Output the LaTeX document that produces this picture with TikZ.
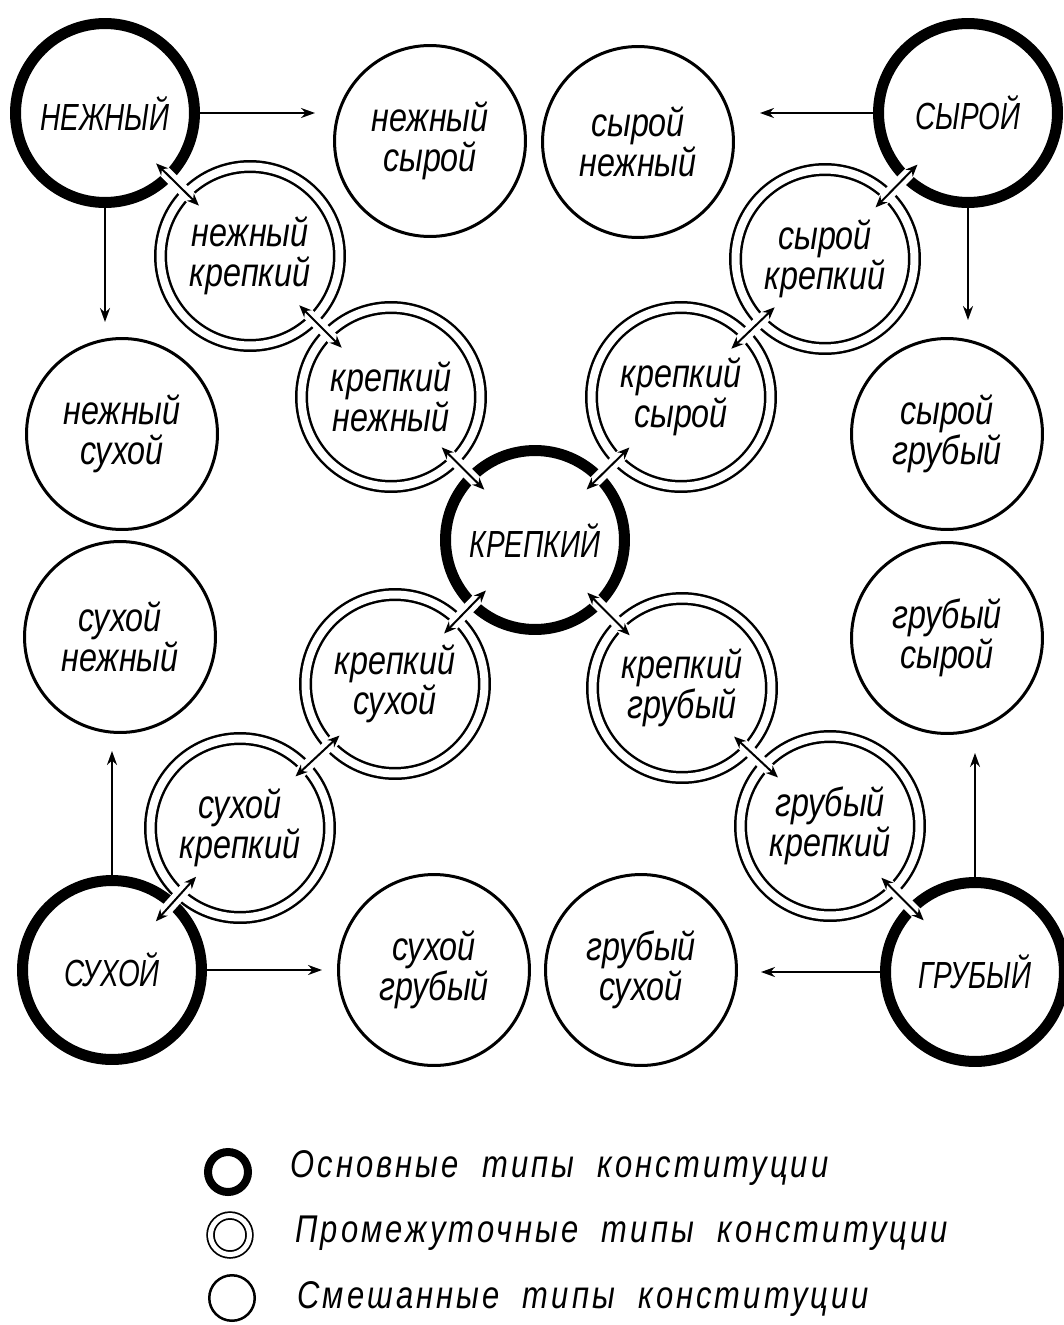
\documentclass[tikz,border=0pt]{standalone}
\usepackage{fontspec}
\usetikzlibrary{arrows.meta,calc}
\newfontfamily\typefont[FakeStretch=0.74]{Liberation Sans}
\newfontfamily\smallfont[FakeStretch=0.8]{Liberation Sans}
\newfontfamily\legendfont[FakeStretch=0.8,LetterSpace=8]{Liberation Sans}

\begin{document}
\begin{tikzpicture}[x=0.02cm, y=-0.02cm,
    basic/.style={draw, circle, line width=0.22cm, minimum size=3.58cm, inner sep=0pt,
      font=\typefont\itshape\fontsize{21.5}{24}\selectfont},
    inter/.style={draw, circle, double, line width=0.05cm, double distance=0.16cm,
      minimum size=3.58cm, inner sep=0pt, align=center,
      font=\smallfont\itshape\fontsize{23}{23}\selectfont},
    mixed/.style={draw, circle, line width=0.06cm, minimum size=3.82cm, inner sep=0pt,
      align=center, font=\smallfont\itshape\fontsize{23}{23}\selectfont},
    arr/.style={line width=0.04cm, -{Stealth[length=0.28cm,width=0.2cm]}},
    twoarr/.style={line width=0.04cm,
      {Stealth[length=0.24cm,width=0.2cm]}-{Stealth[length=0.24cm,width=0.2cm]}},
    halo/.style={white, line width=0.24cm},
    legtext/.style={anchor=base west, inner sep=0pt,
      font=\legendfont\itshape\fontsize{22}{24}\selectfont}]
    \useasboundingbox (0,0) rectangle (1064,1325);

    % Basic types
    \node[basic] (nezh) at (105,113) {НЕЖНЫЙ};
    \node[basic] (syr)  at (968,113) {СЫРОЙ};
    \node[basic] (krep) at (535,540) {КРЕПКИЙ};
    \node[basic] (sukh) at (112,970) {СУХОЙ};
    \node[basic] (grub) at (975,972) {ГРУБЫЙ};

    % Mixed types
    \node[mixed] (nezhsyr)  at (430,141) {нежный\\сырой};
    \node[mixed] (syrnezh)  at (638,142) {сырой\\нежный};
    \node[mixed] (nezhsukh) at (122,434) {нежный\\сухой};
    \node[mixed] (sukhnezh) at (120,637) {сухой\\нежный};
    \node[mixed] (syrgrub)  at (947,434) {сырой\\грубый};
    \node[mixed] (grubsyr)  at (947,638) {грубый\\сырой};
    \node[mixed] (sukhgrub) at (434,970) {сухой\\грубый};
    \node[mixed] (grubsukh) at (641,970) {грубый\\сухой};

    % Intermediate types
    \node[inter] (nezhkrep) at (250,256) {нежный\\крепкий};
    \node[inter] (krepnezh) at (391,397) {крепкий\\нежный};
    \node[inter] (syrkrep)  at (825,259) {сырой\\крепкий};
    \node[inter] (krepsyr)  at (681,397) {крепкий\\сырой};
    \node[inter] (krepsukh) at (395,684) {крепкий\\сухой};
    \node[inter] (sukhkrep) at (240,828) {сухой\\крепкий};
    \node[inter] (krepgrub) at (682,688) {крепкий\\грубый};
    \node[inter] (grubkrep) at (830,826) {грубый\\крепкий};

    % Arrows to mixed types
    \draw[arr, shorten >=0.36cm] (nezh.east) -- (nezh.east -| nezhsyr.west);
    \draw[arr, shorten >=0.3cm] (nezh.south) -- (nezh.south |- nezhsukh.north);
    \draw[arr, shorten >=0.5cm] (syr.west) -- (syr.west -| syrnezh.east);
    \draw[arr, shorten >=0.34cm] (syr.south) -- (syr.south |- syrgrub.north);
    \draw[arr, shorten >=0.34cm] (sukh.north) -- (sukh.north |- sukhnezh.south);
    \draw[arr, shorten >=0.3cm] (sukh.east) -- (sukh.east -| sukhgrub.west);
    \draw[arr, shorten >=0.36cm] (grub.north) -- (grub.north |- grubsyr.south);
    \draw[arr, shorten >=0.46cm] (grub.west) -- (grub.west -| grubsukh.east);

    % Arrows along the diagonals
    \foreach \a/\b in {nezh/nezhkrep, nezhkrep/krepnezh, krepnezh/krep,
        syr/syrkrep, syrkrep/krepsyr, krepsyr/krep,
        krep/krepsukh, krepsukh/sukhkrep, sukhkrep/sukh,
        krep/krepgrub, krepgrub/grubkrep, grubkrep/grub} {
      \draw[halo] ($(\a)!0.5!(\b)!0.5cm!(\a)$) -- ($(\a)!0.5!(\b)!0.5cm!(\b)$);
      \draw[twoarr] ($(\a)!0.5!(\b)!0.6cm!(\a)$) -- ($(\a)!0.5!(\b)!0.6cm!(\b)$);
    }

    % Legend
    \node[draw, circle, line width=0.16cm, minimum size=0.8cm, inner sep=0pt] (lbasic) at (228,1172) {};
    \node[draw, circle, double, line width=0.035cm, double distance=0.1cm, minimum size=0.78cm, inner sep=0pt] (linter) at (230,1235) {};
    \node[draw, circle, line width=0.05cm, minimum size=0.91cm, inner sep=0pt] (lmixed) at (232,1298) {};
    \node[legtext] (tbasic) at (290,1177) {Основные\ \ типы\ \ конституции};
    \node[legtext] (tinter) at (295,1242) {Промежуточные\ \ типы\ \ конституции};
    \node[legtext] (tmixed) at (297,1308) {Смешанные\ \ типы\ \ конституции};
\end{tikzpicture}
\end{document}
